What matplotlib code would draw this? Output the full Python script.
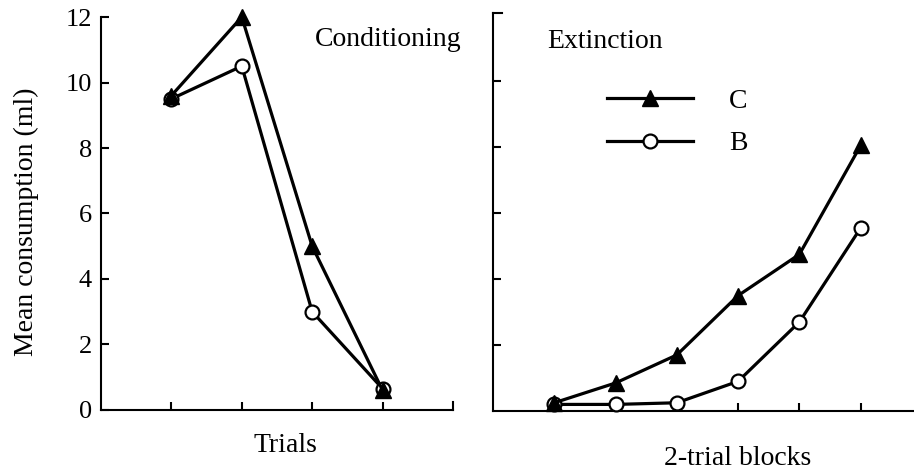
import matplotlib
matplotlib.use("Agg")
from matplotlib import pyplot as plt

# conditioning trials
cond_x = [1, 2, 3, 4]
cond_c = [9.6, 12.0, 5.0, 0.6]
cond_b = [9.5, 10.5, 3.0, 0.65]

# extinction, 2-trial blocks
ext_x = [1, 2, 3, 4, 5, 6]
ext_c = [0.25, 0.85, 1.7, 3.5, 4.75, 8.05]
ext_b = [0.2, 0.2, 0.25, 0.9, 2.7, 5.55]

plt.rcParams["font.family"] = ["Liberation Serif", "DejaVu Serif"]
plt.rcParams["font.size"] = 20

fig = plt.figure(figsize=(9.14, 4.70), dpi=100)
ax1 = fig.add_axes([0.1105, 0.1277, 0.3851, 0.8361])
ax2 = fig.add_axes([0.5394, 0.1255, 0.4606, 0.8465])

lw = 2.3
tri = dict(color="black", lw=lw, marker="^", markersize=12, markerfacecolor="black",
           clip_on=False)
circ = dict(color="black", lw=lw, marker="o", markersize=10,
            markerfacecolor="white", markeredgewidth=1.6, clip_on=False)

# triangles drawn over the circles where they overlap
ax1.plot(cond_x, cond_b, **circ, zorder=3)
ax1.plot(cond_x, cond_c, **tri, zorder=4)
l_c, = ax2.plot(ext_x, ext_c, **tri, zorder=4)
l_b, = ax2.plot(ext_x, ext_b, **circ, zorder=3)

for ax in (ax1, ax2):
    ax.spines["top"].set_visible(False)
    ax.spines["right"].set_visible(False)
    for s in ("left", "bottom"):
        ax.spines[s].set_linewidth(1.5)
    ax.tick_params(direction="in", width=1.5, length=6, pad=6.5, labelsize=19)

ax1.set_xlim(0, 5)
ax1.set_ylim(0, 12)
ax1.set_xticks(cond_x)
ax1.set_xticklabels([])
ax1.set_yticks([0, 2, 4, 6, 8, 10, 12])
ax1.spines["right"].set_visible(True)
ax1.spines["right"].set_linewidth(1.5)
ax1.spines["right"].set_bounds(0, 0.25)
ax1.set_ylabel("Mean consumption (ml)")
ax1.yaxis.set_label_coords(-0.176, 0.48)
ax1.set_xlabel("Trials")
ax1.xaxis.set_label_coords(0.525, -0.058)
ax1.text(0.608, 0.975, "Conditioning", transform=ax1.transAxes, va="top", ha="left")

ax2.set_xlim(0, 6.87)
ax2.set_ylim(0, 12.06)
ax2.set_xticks([4, 5, 6])
ax2.set_xticklabels([])
ax2.set_yticks([2, 4, 6, 8, 10])
ax2.set_yticklabels([])
ax2.spines["top"].set_visible(True)
ax2.spines["top"].set_linewidth(1.5)
ax2.spines["top"].set_bounds(0, 0.15)
ax2.set_xlabel("2-trial blocks")
ax2.xaxis.set_label_coords(0.58, -0.089)
ax2.text(0.128, 0.96, "Extinction", transform=ax2.transAxes, va="top", ha="left")
ax2.legend([l_c, l_b], ["C", "B"], loc="upper left", bbox_to_anchor=(0.27, 0.81),
           frameon=False, borderpad=0, borderaxespad=0, handlelength=3.1,
           handletextpad=1.3, labelspacing=0.6)

fig.savefig("out.png", dpi=100)
